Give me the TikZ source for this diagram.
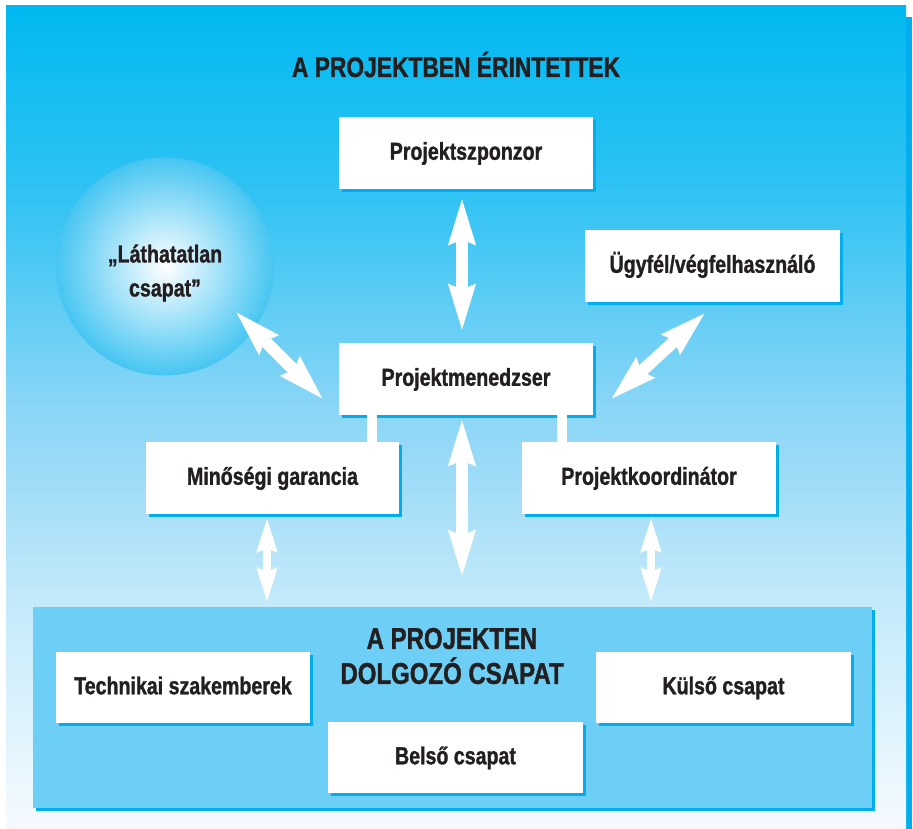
\documentclass[tikz,border=0pt]{standalone}
\usepackage{fontspec}
\setmainfont{Liberation Sans}[FakeStretch=0.8, BoldFeatures={FakeBold=1.2}]
\usetikzlibrary{arrows.meta,shadows,calc}
\definecolor{txt}{RGB}{35,31,32}
\definecolor{shb}{RGB}{0,174,239}
\definecolor{teamc}{RGB}{109,207,246}
\definecolor{ga}{RGB}{0,185,241}
\definecolor{gb}{RGB}{50,195,243}
\definecolor{gc}{RGB}{135,213,246}
\definecolor{gd}{RGB}{165,222,248}
\definecolor{ge}{RGB}{195,234,250}
\definecolor{gf}{RGB}{245,250,255}
\definecolor{rim}{RGB}{70,197,242}
\pgfdeclareverticalshading{bgshade}{100bp}{color(0bp)=(gf); color(25bp)=(gf); color(38.9bp)=(ge); color(45bp)=(gd); color(51.1bp)=(gc); color(63.2bp)=(gb); color(75bp)=(ga); color(100bp)=(ga)}
\newcommand\boxfont{\fontsize{24.5}{34}\selectfont\bfseries}
\newcommand\titlefont{\fontsize{28.5}{34}\selectfont\bfseries}
\newcommand\teamfont{\fontsize{30}{35}\selectfont\bfseries}
\tikzset{
  box/.style={fill=white, inner sep=0pt, minimum width=254pt, minimum height=72pt,
    text=txt, font=\boxfont, text height=17.5pt, text depth=4pt,
    drop shadow={shadow xshift=3pt, shadow yshift=-3pt, fill=shb, opacity=1}},
  bigarrow/.style={white, line width=12pt,
    {Stealth[length=46pt,width=25pt,inset=4pt]}-{Stealth[length=46pt,width=25pt,inset=4pt]}},
  smallarrow/.style={white, line width=8pt,
    {Stealth[length=34pt,width=19pt,inset=3pt]}-{Stealth[length=34pt,width=19pt,inset=3pt]}},
  bar/.style={white, line width=10pt}
}
\begin{document}
\begin{tikzpicture}[x=1pt,y=-1pt]
\useasboundingbox (0,0) rectangle (913,829);
% outer panel
\fill[shb] (12,17) rectangle (912,829);
\shade[shading=bgshade] (6,6) rectangle (906,829);
% title
\node[font=\titlefont, text=txt, anchor=base, inner sep=0pt] (title) at (456,77) {A PROJEKTBEN ÉRINTETTEK};
% circle
\node[circle, inner sep=0pt, minimum size=218pt, inner color=white, outer color=rim] (circ) at (165,266.5) {};
\node[font=\boxfont, text=txt, align=center, inner sep=0pt] (circtext) at (165,273) {„Láthatatlan\\csapat”};
% boxes
\node[box] (spons) at (466,153) {Projektszponzor};
\node[box] (mgr) at (466,379) {Projektmenedzser};
\node[box, minimum width=255pt] (ugy) at (712.5,266) {Ügyfél/végfelhasználó};
\node[box, minimum width=253pt] (qa) at (272.5,478) {Minőségi garancia};
\node[box] (koord) at (649,478) {Projektkoordinátor};
% team panel
\node[fill=teamc, inner sep=0pt, minimum width=839pt, minimum height=201pt,
  drop shadow={shadow xshift=2.5pt, shadow yshift=-3pt, fill=shb, opacity=1}] (team) at (452.5,707.5) {};
\node[font=\teamfont, text=txt, align=center, inner sep=0pt] (teamtitle) at (452,656) {A PROJEKTEN\\DOLGOZÓ CSAPAT};
\node[box, minimum height=71pt, minimum width=254pt] (tech) at (183,687.5) {Technikai szakemberek};
\node[box, minimum height=71pt, minimum width=255pt] (kulso) at (723.5,687.5) {Külső csapat};
\node[box, minimum height=71pt, minimum width=255pt] (belso) at (455.5,757.5) {Belső csapat};
% bars
\coordinate (b1) at ([xshift=-94pt]mgr.south);
\coordinate (b2) at ([xshift=95.5pt]mgr.south);
\draw[bar] (b1) -- (b1 |- qa.north);
\draw[bar] (b2) -- (b2 |- koord.north);
% arrows
\coordinate (s1) at ([xshift=-4pt,yshift=-8pt]spons.south);
\draw[bigarrow, shorten >=11pt] (s1) -- (s1 |- mgr.north);
\coordinate (m1) at ([xshift=-4pt,yshift=-3pt]mgr.south);
\draw[bigarrow, shorten >=29pt] (m1) -- (m1 |- team.north);
\draw[bigarrow] ([shift={(70pt,-44.5pt)}]circ.center) -- ([shift={(-15pt,-21pt)}]mgr.west);
\draw[bigarrow] ([shift={(-6.5pt,-10pt)}]ugy.south) -- ([shift={(17pt,-21pt)}]mgr.east);
\coordinate (q1) at ([xshift=-5.5pt,yshift=-3pt]qa.south);
\draw[smallarrow, shorten >=4pt] (q1) -- (q1 |- team.north);
\coordinate (k1) at ([xshift=2pt,yshift=-3pt]koord.south);
\draw[smallarrow, shorten >=4pt] (k1) -- (k1 |- team.north);
\end{tikzpicture}
\end{document}
